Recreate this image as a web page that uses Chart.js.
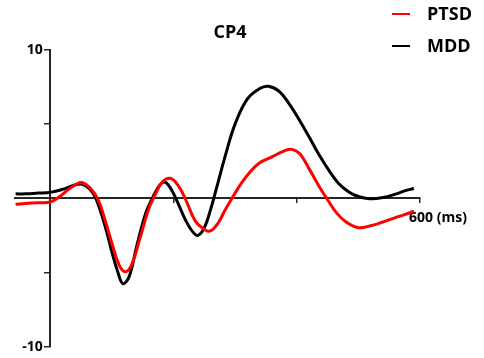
<!DOCTYPE html>
<html>
<head>
<meta charset="utf-8">
<script src="https://cdn.jsdelivr.net/npm/chart.js@4"></script>
<style>
  html, body { margin: 0; padding: 0; background: #fff; }
  canvas { display: block; }
</style>
</head>
<body>
<canvas id="erp" width="484" height="358"></canvas>
<script>
// ===== DATA =====
const seriesNames = ['PTSD', 'MDD'];
const yTickValues = [-10, -5, 5, 10];
const xTickValues = [200, 400, 600];

const ptsdTimes = [-56, -40, -20, 0, 15, 30, 45, 53, 65, 78, 90, 100, 112, 122, 132, 145, 160, 170, 182, 195,
  207, 219, 235, 250, 260, 272, 285, 295, 310, 325, 340, 360, 380, 392, 405, 420, 435, 450, 465, 480,
  500, 520, 540, 560, 575, 590];
const ptsdValues = [-0.4, -0.35, -0.3, -0.25, 0.1, 0.6, 1.0, 1.05, 0.7, -0.1, -1.6, -3.0, -4.5, -4.95, -4.5, -2.8, -0.7, 0.2, 1.1, 1.35,
  0.9, 0.0, -1.5, -2.1, -2.2, -1.7, -0.7, 0.0, 1.0, 1.8, 2.4, 2.8, 3.2, 3.3, 3.0, 2.0, 0.9, -0.1, -1.0, -1.6,
  -1.98, -1.85, -1.6, -1.3, -1.1, -0.87];

const mddTimes = [-56, -40, -20, 0, 20, 40, 52, 65, 75, 90, 100, 110, 118, 128, 140, 155, 167, 178, 186, 195,
  205, 220, 232, 240, 250, 260, 270, 285, 300, 320, 340, 354, 372, 388, 404, 420, 436, 452, 468, 484,
  500, 518, 540, 560, 575, 590];
const mddValues = [0.3, 0.3, 0.35, 0.4, 0.6, 0.9, 0.95, 0.6, -0.1, -2.0, -3.6, -5.0, -5.75, -5.3, -3.3, -1.0, 0.1, 0.9, 1.1, 0.7,
  -0.1, -1.5, -2.3, -2.5, -2.0, -0.8, 0.7, 3.0, 5.0, 6.7, 7.4, 7.55, 7.2, 6.35, 5.3, 4.15, 2.95, 1.9, 1.0, 0.45,
  0.12, -0.03, 0.05, 0.28, 0.5, 0.66];

const toPoints = (xs, ys) => xs.map((x, i) => ({ x: x, y: ys[i] }));

const axisColor = '#262626';
const boldFont = { family: '"Open Sans", sans-serif', weight: 'bold', size: 14 };

// title + legend drawn at fixed spots like the original figure
const overlay = {
  id: 'overlay',
  afterDraw(chart) {
    const c = chart.ctx;
    c.save();
    c.fillStyle = '#000';
    c.textBaseline = 'middle';
    c.font = 'bold 18px "Open Sans", sans-serif';
    c.textAlign = 'center';
    c.fillText('CP4', 230, 33);
    c.textAlign = 'left';
    const rows = [14, 46];
    chart.data.datasets.forEach((ds, i) => {
      c.strokeStyle = ds.borderColor;
      c.lineWidth = 2;
      c.beginPath();
      c.moveTo(392, rows[i]);
      c.lineTo(410, rows[i]);
      c.stroke();
      c.fillText(ds.label, 427, rows[i] + 1);
    });
    c.restore();
  }
};

new Chart(document.getElementById('erp'), {
  type: 'line',
  data: {
    datasets: [
      { label: seriesNames[0], data: toPoints(ptsdTimes, ptsdValues), borderColor: '#ff0000' },
      { label: seriesNames[1], data: toPoints(mddTimes, mddValues), borderColor: '#000000' }
    ]
  },
  options: {
    responsive: false,
    animation: false,
    layout: { padding: { left: 15, right: 64, top: 50, bottom: 9 } },
    elements: {
      point: { radius: 0 },
      line: { borderWidth: 3, tension: 0.4, fill: false }
    },
    plugins: { legend: { display: false }, title: { display: false }, tooltip: { enabled: false } },
    scales: {
      x: {
        type: 'linear',
        min: -57, max: 600,
        position: { y: 0 },
        afterFit: s => { s.height = 0; },
        afterBuildTicks: s => { s.ticks = xTickValues.map(v => ({ value: v })); },
        border: { color: axisColor, width: 2 },
        grid: { drawOnChartArea: false, drawTicks: true, tickLength: 4, color: axisColor, lineWidth: 1.5 },
        ticks: {
          color: '#000', font: boldFont, padding: 7, labelOffset: 18, maxRotation: 0, autoSkip: false,
          callback: v => (v === 600 ? '600 (ms)' : '')
        }
      },
      y: {
        min: -10, max: 10,
        position: { x: 0 },
        afterFit: s => { s.width = 0; },
        afterBuildTicks: s => { s.ticks = yTickValues.map(v => ({ value: v })); },
        border: { color: axisColor, width: 2 },
        grid: { drawOnChartArea: false, drawTicks: true, tickLength: 5, color: axisColor, lineWidth: 1.5 },
        ticks: {
          color: '#000', font: boldFont,
          // trailing spaces keep the label clear of the tick mark
          callback: v => (Math.abs(v) === 10 ? v + '  ' : '')
        }
      }
    }
  },
  plugins: [overlay]
});
</script>
</body>
</html>
